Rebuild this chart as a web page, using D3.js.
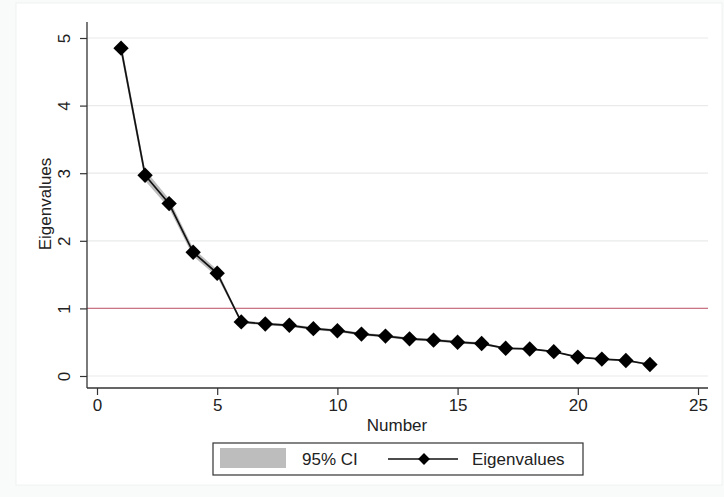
<!DOCTYPE html>
<html>
<head>
<meta charset="utf-8">
<script src="https://cdn.jsdelivr.net/npm/d3@7"></script>
<style>
  html, body { margin: 0; padding: 0; background: #f9fafa; }
  svg { display: block; }
  text { font-family: "Liberation Sans", Arial, Helvetica, sans-serif; fill: #222; }
</style>
</head>
<body>
<svg id="chart" width="724" height="497"></svg>
<script>
// Scree plot: eigenvalues by component number, with 95% confidence band
const components = d3.range(1, 24);
const eigenvalues = [4.85, 2.97, 2.55, 1.83, 1.52, 0.80, 0.77, 0.75, 0.70, 0.67, 0.62, 0.59,
                     0.55, 0.53, 0.50, 0.48, 0.41, 0.40, 0.36, 0.28, 0.25, 0.23, 0.17];
const ciLower = [4.76, 2.89, 2.48, 1.77, 1.47, 0.78, 0.75, 0.73, 0.68, 0.65, 0.60, 0.57,
                 0.53, 0.51, 0.48, 0.46, 0.40, 0.39, 0.35, 0.27, 0.24, 0.22, 0.16];
const ciUpper = [4.94, 3.05, 2.62, 1.89, 1.57, 0.82, 0.79, 0.77, 0.72, 0.69, 0.64, 0.61,
                 0.57, 0.55, 0.52, 0.50, 0.42, 0.41, 0.37, 0.29, 0.26, 0.24, 0.18];
const xTicks = [0, 5, 10, 15, 20, 25];
const yTicks = [0, 1, 2, 3, 4, 5];
const refLine = 1;

const svg = d3.select("#chart");
const fontSize = 17;

// graph region
svg.append("rect").attr("x", 16).attr("y", 3).attr("width", 706).attr("height", 482)
  .attr("fill", "#ffffff").attr("stroke", "#f0f2f2");

// plot region bounds
const plot = { left: 87, right: 708, top: 22, bottom: 388 };

const x = d3.scaleLinear().domain([0, 25]).range([97, 698]);
const y = d3.scaleLinear().domain([0, 5]).range([376, 38]);

// horizontal grid lines
svg.append("g").selectAll("line").data(yTicks).join("line")
  .attr("x1", plot.left).attr("x2", plot.right)
  .attr("y1", d => y(d)).attr("y2", d => y(d))
  .attr("stroke", "#e9eaea").attr("stroke-width", 1.2);

// reference line at eigenvalue = 1
svg.append("line")
  .attr("x1", plot.left).attr("x2", plot.right)
  .attr("y1", y(refLine)).attr("y2", y(refLine))
  .attr("stroke", "#c97585").attr("stroke-width", 1.2);

// confidence band
const rows = components.map((c, i) => ({ c, v: eigenvalues[i], lo: ciLower[i], hi: ciUpper[i] }));
svg.append("path").datum(rows)
  .attr("d", d3.area().x(d => x(d.c)).y0(d => y(d.lo)).y1(d => y(d.hi)))
  .attr("fill", "#bdbdbd");

// eigenvalue line
svg.append("path").datum(rows)
  .attr("d", d3.line().x(d => x(d.c)).y(d => y(d.v)))
  .attr("fill", "none").attr("stroke", "#111").attr("stroke-width", 1.7);

// diamond markers
svg.append("g").selectAll("path").data(rows).join("path")
  .attr("transform", d => `translate(${x(d.c)},${y(d.v)}) rotate(45)`)
  .attr("d", d3.symbol().type(d3.symbolSquare).size(118))
  .attr("fill", "#000");

// y axis
const yAxis = svg.append("g").attr("transform", `translate(${plot.left},0)`)
  .call(d3.axisLeft(y).tickValues(yTicks).tickSize(7).tickPadding(0).tickFormat(d3.format("d")));
yAxis.select(".domain").attr("d", `M0,${plot.top}V${plot.bottom}`).attr("stroke", "#333").attr("stroke-width", 1.3);
yAxis.selectAll(".tick line").attr("stroke", "#333").attr("stroke-width", 1.2);
yAxis.selectAll(".tick text")
  .attr("transform", "translate(-23,0) rotate(-90)")
  .attr("x", 0).attr("y", 0).attr("dy", "0.35em")
  .attr("text-anchor", "middle").attr("font-size", fontSize).attr("fill", "#222")
  .style("font-family", "Liberation Sans, Arial, sans-serif");

// x axis
const xAxis = svg.append("g").attr("transform", `translate(0,${plot.bottom})`)
  .call(d3.axisBottom(x).tickValues(xTicks).tickSize(7).tickPadding(4).tickFormat(d3.format("d")));
xAxis.select(".domain").attr("d", `M${plot.left},0H${plot.right}`).attr("stroke", "#333").attr("stroke-width", 1.3);
xAxis.selectAll(".tick line").attr("stroke", "#333").attr("stroke-width", 1.2);
xAxis.selectAll(".tick text").attr("font-size", fontSize).attr("fill", "#222")
  .style("font-family", "Liberation Sans, Arial, sans-serif");

// axis titles
svg.append("text").attr("x", 397).attr("y", 431).attr("text-anchor", "middle")
  .attr("font-size", fontSize).text("Number");
svg.append("text").attr("transform", "translate(51,204) rotate(-90)")
  .attr("text-anchor", "middle").attr("font-size", fontSize).text("Eigenvalues");

// legend
const lg = svg.append("g");
lg.append("rect").attr("x", 213).attr("y", 443).attr("width", 370).attr("height", 32)
  .attr("fill", "#fff").attr("stroke", "#333").attr("stroke-width", 1.2);
lg.append("rect").attr("x", 220).attr("y", 448).attr("width", 66).attr("height", 20).attr("fill", "#bdbdbd");
lg.append("text").attr("x", 302).attr("y", 465).attr("font-size", fontSize).text("95% CI");
lg.append("line").attr("x1", 388).attr("x2", 458).attr("y1", 459).attr("y2", 459)
  .attr("stroke", "#111").attr("stroke-width", 1.4);
lg.append("path").attr("transform", "translate(424,459) rotate(45)")
  .attr("d", d3.symbol().type(d3.symbolSquare).size(70)).attr("fill", "#000");
lg.append("text").attr("x", 472).attr("y", 465).attr("font-size", fontSize).text("Eigenvalues");
</script>
</body>
</html>
